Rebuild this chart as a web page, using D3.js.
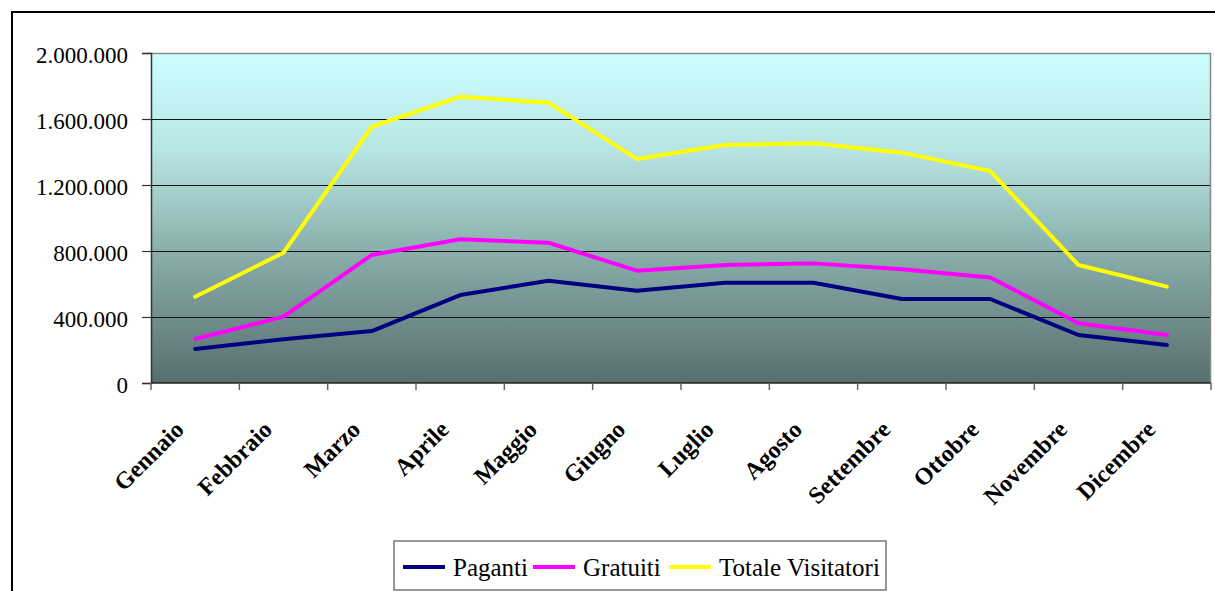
<!DOCTYPE html>
<html>
<head>
<meta charset="utf-8">
<script src="https://cdn.jsdelivr.net/npm/d3@7"></script>
<style>
  html, body { margin: 0; padding: 0; background: #fff; }
  svg { display: block; }
  text { font-family: "Liberation Serif", "Times New Roman", serif; fill: #000; }
</style>
</head>
<body>
<svg id="chart" width="1215" height="591"></svg>
<script>
// visitatori mensili — three series, Excel-style line chart
const MONTHS = ["Gennaio", "Febbraio", "Marzo", "Aprile", "Maggio", "Giugno",
                "Luglio", "Agosto", "Settembre", "Ottobre", "Novembre", "Dicembre"];
const PAGANTI = [206000, 265000, 315000, 533000, 620000, 559000,
                 608000, 608000, 509000, 509000, 291000, 230000];
const GRATUITI = [267000, 402000, 776000, 871000, 850000, 681000,
                  715000, 725000, 689000, 640000, 362000, 291000];
const TOTALE = [523000, 790000, 1553000, 1735000, 1699000, 1358000,
                1442000, 1453000, 1396000, 1285000, 715000, 584000];
const Y_TICKS = [0, 400000, 800000, 1200000, 1600000, 2000000];
const SERIES = [
  {name: "Paganti", values: PAGANTI, color: "#000080"},
  {name: "Gratuiti", values: GRATUITI, color: "#ff00ff"},
  {name: "Totale Visitatori", values: TOTALE, color: "#ffff00"},
];

const svg = d3.select("#chart");
const L = 151, R = 1211, T = 53, B = 383;

// outer frame (right and bottom edges fall outside the window)
svg.append("rect").attr("x", 12).attr("y", 12).attr("width", 1215).attr("height", 600)
  .attr("fill", "none").attr("stroke", "#000").attr("stroke-width", 2);

const x = d3.scaleBand(MONTHS, [L, R]).padding(0);
const y = d3.scaleLinear([0, 2000000], [B, T]);

const grad = svg.append("defs").append("linearGradient").attr("id", "bg")
  .attr("x1", 0).attr("y1", 0).attr("x2", 0).attr("y2", 1);
grad.append("stop").attr("offset", "0%").attr("stop-color", "#ccffff");
grad.append("stop").attr("offset", "30%").attr("stop-color", "#b6e4e2");
grad.append("stop").attr("offset", "60%").attr("stop-color", "#8aafac");
grad.append("stop").attr("offset", "100%").attr("stop-color", "#586e6e");

svg.append("rect").attr("x", L).attr("y", T).attr("width", R - L).attr("height", B - T)
  .attr("fill", "url(#bg)");

// gridlines
svg.append("g").selectAll("line").data(Y_TICKS.slice(1, -1)).join("line")
  .attr("x1", L).attr("x2", R).attr("y1", d => y(d) + 0.5).attr("y2", d => y(d) + 0.5)
  .attr("stroke", "#111").attr("stroke-width", 1);

// top + right border of plot
svg.append("path").attr("d", `M${L},${T + 0.5}H${R - 0.5}V${B}`)
  .attr("fill", "none").attr("stroke", "#888").attr("stroke-width", 1.5);

// y axis
const yAxis = svg.append("g").attr("transform", `translate(${L},0)`)
  .call(d3.axisLeft(y).tickValues(Y_TICKS).tickSize(9).tickPadding(14)
    .tickFormat(d => d3.format(",")(d).replace(/,/g, ".")));
yAxis.attr("font-family", null);
yAxis.select(".domain").attr("stroke", "#333").attr("stroke-width", 1.5);
yAxis.selectAll(".tick line").attr("stroke", "#333").attr("stroke-width", 1.2);
yAxis.selectAll(".tick text").attr("font-size", 23).attr("fill", "#000").attr("dy", "0.4em");

// x axis: ticks at category boundaries
const xAxis = svg.append("g").attr("transform", `translate(0,${B})`);
xAxis.append("line").attr("x1", L).attr("x2", R).attr("stroke", "#222").attr("stroke-width", 1.5);
const bounds = MONTHS.map(m => x(m)).concat([R]);
xAxis.selectAll("line.tk").data(bounds).join("line").attr("class", "tk")
  .attr("x1", d => d).attr("x2", d => d).attr("y1", 0).attr("y2", 7)
  .attr("stroke", "#666").attr("stroke-width", 1.5);
xAxis.selectAll("text").data(MONTHS).join("text")
  .attr("transform", m => `translate(${x(m) + x.bandwidth() / 2 - 10},${48}) rotate(-45)`)
  .attr("text-anchor", "end").attr("font-size", 24).attr("font-weight", "bold")
  .text(m => m);

// lines
const line = d3.line().x((d, i) => x(MONTHS[i]) + x.bandwidth() / 2).y(d => y(d));
svg.append("g").selectAll("path").data(SERIES).join("path")
  .attr("d", s => line(s.values)).attr("fill", "none")
  .attr("stroke", s => s.color).attr("stroke-width", 4)
  .attr("stroke-linejoin", "round").attr("stroke-linecap", "round");

// legend
const lg = svg.append("g");
lg.append("rect").attr("x", 394).attr("y", 541).attr("width", 492).attr("height", 49)
  .attr("fill", "#fff").attr("stroke", "#777").attr("stroke-width", 1.5);
const LEG_X = [403, 533, 669];
lg.selectAll("g").data(SERIES).join("g")
  .attr("transform", (s, i) => `translate(${LEG_X[i]},567)`)
  .each(function (s) {
    const g = d3.select(this);
    g.append("line").attr("x1", 0).attr("x2", 42).attr("stroke", s.color).attr("stroke-width", 4);
    g.append("text").attr("x", 50).attr("dy", "0.35em").attr("font-size", 25).text(s.name);
  });
</script>
</body>
</html>
